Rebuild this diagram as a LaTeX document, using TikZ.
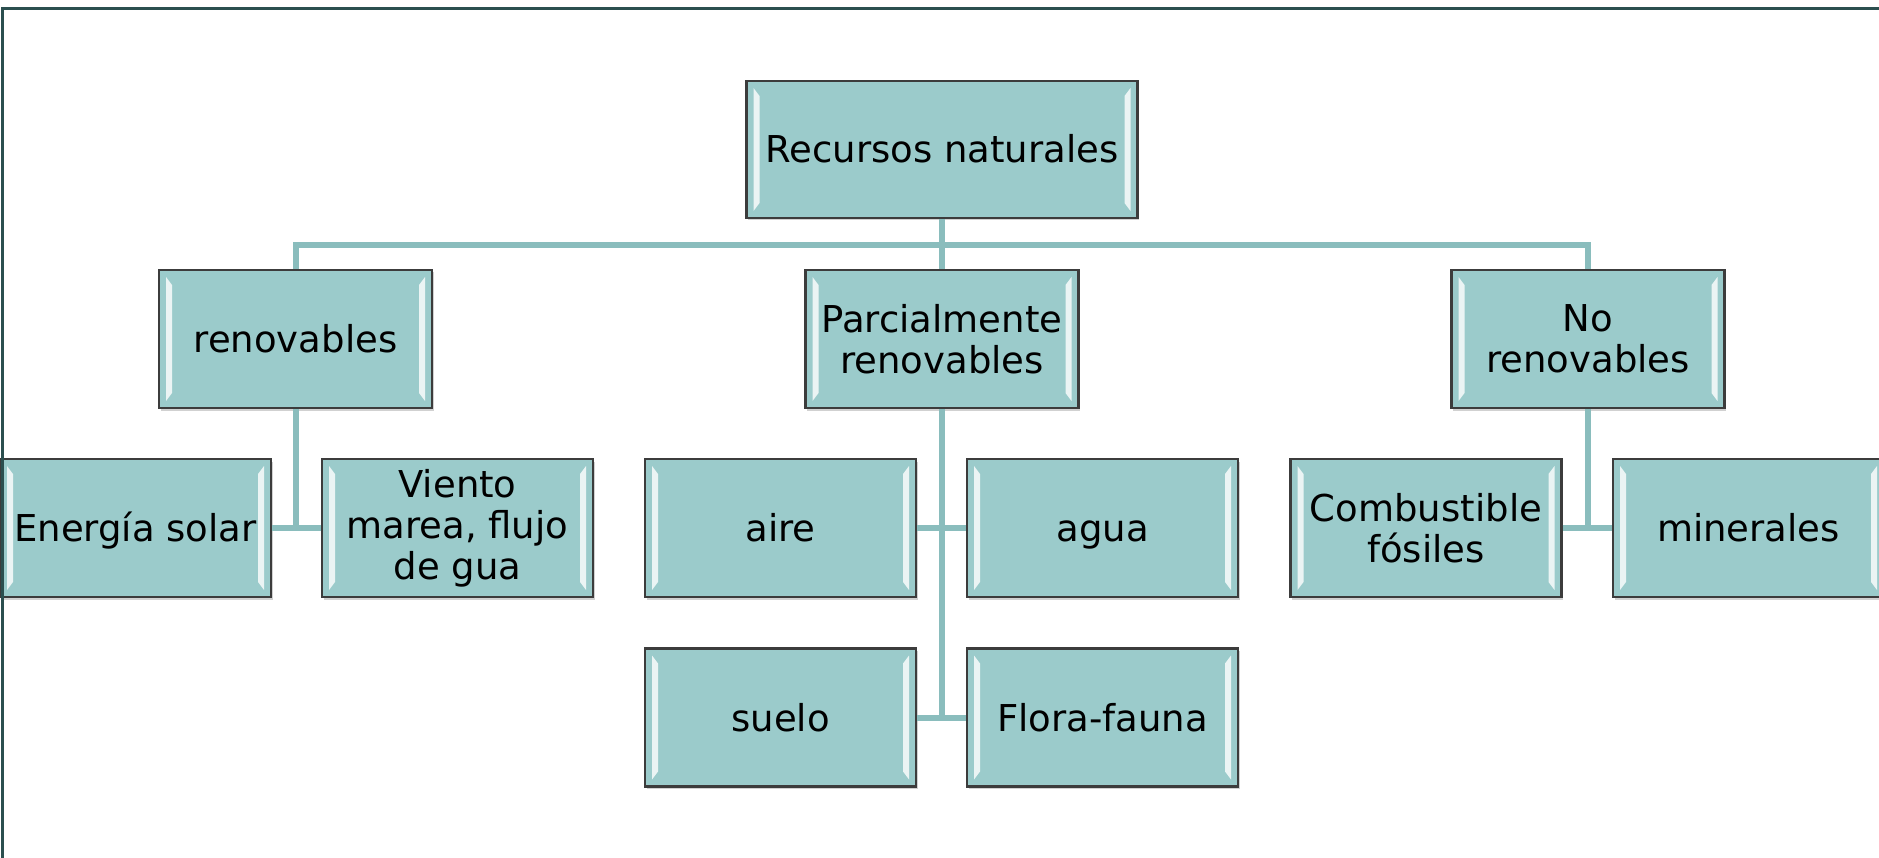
\documentclass[tikz,border=0pt]{standalone}
\usepackage{fontspec}
\setmainfont{DejaVu Sans}
\usetikzlibrary{shadows}
\definecolor{bxfill}{HTML}{9BCBCB}
\definecolor{bxdraw}{HTML}{3C3C3C}
\definecolor{cn}{HTML}{8ABDBD}
\definecolor{frm}{HTML}{2B4F4F}
\tikzset{
  bx/.style={rectangle, draw=bxdraw, line width=2.2pt, fill=bxfill, inner sep=0pt,
    align=center, text=black, font=\fontsize{37}{41}\selectfont,
    minimum width=271pt, minimum height=138pt,
    drop shadow={shadow xshift=1.5pt, shadow yshift=-2.5pt, opacity=0.18, fill=black},
    path picture={
      \fill[white, opacity=0.8]
        ([xshift=7pt,yshift=-7pt]path picture bounding box.north west) --
        ([xshift=13pt,yshift=-15pt]path picture bounding box.north west) --
        ([xshift=13pt,yshift=15pt]path picture bounding box.south west) --
        ([xshift=7pt,yshift=7pt]path picture bounding box.south west) -- cycle;
      \fill[white, opacity=0.8]
        ([xshift=-7pt,yshift=-7pt]path picture bounding box.north east) --
        ([xshift=-13pt,yshift=-15pt]path picture bounding box.north east) --
        ([xshift=-13pt,yshift=15pt]path picture bounding box.south east) --
        ([xshift=-7pt,yshift=7pt]path picture bounding box.south east) -- cycle;
    }},
  oneline/.style={text height=27pt, text depth=0pt},
  cnx/.style={draw=cn, line width=6pt},
  frame/.style={draw=frm, line width=2.5pt}
}
\begin{document}
\begin{tikzpicture}[x=1pt, y=-1pt]
\useasboundingbox (0,0) rectangle (1879,858);
\begin{scope}
\clip (0,0) rectangle (1879,858);
% level 0
\node[bx, oneline, minimum width=391pt, minimum height=137pt] (root) at (942,149.5) {Recursos naturales};
% level 1
\node[bx, oneline, minimum width=273pt] (ren) at (295.5,339) {renovables};
\node[bx, minimum width=273pt] (par) at (942,339) {Parcialmente\\renovables};
\node[bx, minimum width=273pt] (nor) at (1588,339) {No\\renovables};
% level 2, row 1
\node[bx, oneline] (ene) at (135.5,528) {Energía solar};
\node[bx] (vie) at (457.5,528) {Viento\\marea, flujo\\de gua};
\node[bx, oneline] (aire) at (780.5,528) {aire};
\node[bx, oneline] (agua) at (1102.5,528) {agua};
\node[bx] (com) at (1426,528) {Combustible\\fósiles};
\node[bx, oneline] (min) at (1748.5,528) {minerales};
% level 2, row 2
\node[bx, oneline] (sue) at (780.5,717.5) {suelo};
\node[bx, oneline] (flo) at (1102.5,717.5) {Flora-fauna};
% connectors
\coordinate (bus) at (942,245);
\draw[cnx] (root.south) -- (bus);
\draw[cnx] (ren.north) |- (bus) -| (nor.north);
\draw[cnx] (bus) -- (par.north);
\draw[cnx] (ren.south) -- (ren.south |- ene.east);
\draw[cnx] (ene.east) -- (vie.west);
\draw[cnx] (par.south) -- (par.south |- sue.east);
\draw[cnx] (aire.east) -- (agua.west);
\draw[cnx] (sue.east) -- (flo.west);
\draw[cnx] (nor.south) -- (nor.south |- com.east);
\draw[cnx] (com.east) -- (min.west);
% frame
\coordinate (fbl) at (2.5,870);
\coordinate (ftl) at (2.5,8.5);
\coordinate (ftr) at (1890,8.5);
\draw[frame] (fbl) -- (ftl) -- (ftr);
\end{scope}
\end{tikzpicture}
\end{document}
